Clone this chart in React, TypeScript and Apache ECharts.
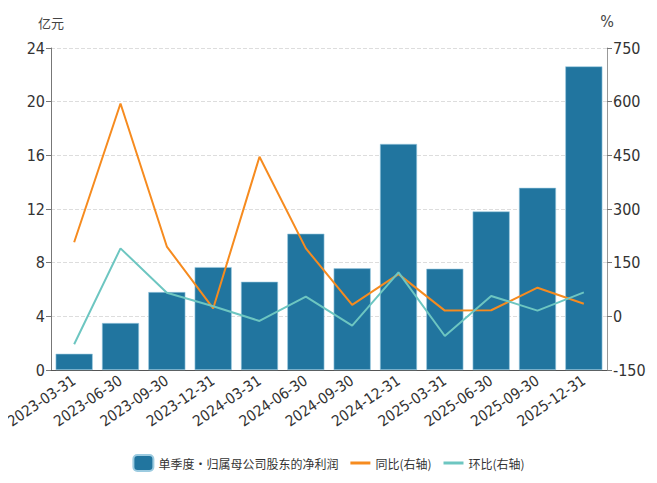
import React, { useEffect, useRef } from "react";
import * as echarts from "echarts";

const categories = [
  "2023-03-31", "2023-06-30", "2023-09-30", "2023-12-31",
  "2024-03-31", "2024-06-30", "2024-09-30", "2024-12-31",
  "2025-03-31", "2025-06-30", "2025-09-30", "2025-12-31",
];
const profit = [1.21, 3.5, 5.81, 7.67, 6.58, 10.16, 7.58, 16.85, 7.55, 11.82, 13.58, 22.63];
const yoy = [207, 595, 195, 22, 446, 190, 32, 118, 16, 17, 80, 35];
const qoq = [-78, 190, 66, 28, -13, 55, -26, 123, -55, 57, 16, 67];

const seriesNames = ["单季度·归属母公司股东的净利润", "同比(右轴)", "环比(右轴)"];
const font = "'Noto Sans CJK SC', 'Noto Sans', sans-serif";
const narrow = "'Liberation Sans Narrow', 'DejaVu Sans Condensed', 'Noto Sans', sans-serif";
const lineIcon = "path://M0,0 L20,0 L20,3 L0,3 Z";

export default function App() {
  const ref = useRef<HTMLDivElement>(null);
  useEffect(() => {
    const chart = echarts.init(ref.current!, null, { renderer: "svg" });
    chart.setOption({
      animation: false,
      textStyle: { fontFamily: font },
      grid: { left: 51, right: 50, top: 48, bottom: 113 },
      legend: {
        bottom: 6,
        left: "center",
        itemWidth: 20,
        itemHeight: 16,
        itemGap: 12,
        itemTextGap: 6,
        textStyle: { fontSize: 12, color: "#333", fontFamily: font },
        data: [
          { name: seriesNames[0], icon: "roundRect" },
          { name: seriesNames[1], icon: lineIcon },
          { name: seriesNames[2], icon: lineIcon },
        ],
      },
      xAxis: {
        type: "category",
        data: categories,
        axisLine: { lineStyle: { color: "#555" } },
        axisTick: { alignWithLabel: true, lineStyle: { color: "#555" } },
        axisLabel: { rotate: 34, fontSize: 15, fontFamily: narrow, color: "#333", interval: 0, margin: 9 },
      },
      yAxis: [
        {
          type: "value",
          name: "亿元",
          nameTextStyle: { fontSize: 13, color: "#444", padding: [0, 0, 4, 0] },
          min: 0,
          max: 24,
          interval: 4,
          axisLine: { show: true, lineStyle: { color: "#777" } },
          axisTick: { show: true, lineStyle: { color: "#777" } },
          axisLabel: { fontSize: 16, fontFamily: narrow, color: "#333", margin: 6 },
          splitLine: { lineStyle: { type: "dashed", color: "#ddd" } },
        },
        {
          type: "value",
          name: "%",
          nameTextStyle: { fontSize: 16, fontFamily: narrow, color: "#444", padding: [0, 0, 4, 0] },
          min: -150,
          max: 750,
          interval: 150,
          axisLine: { show: true, lineStyle: { color: "#999" } },
          axisTick: { show: true, lineStyle: { color: "#777" } },
          axisLabel: { fontSize: 16, fontFamily: narrow, color: "#333", margin: 6 },
          splitLine: { show: false },
        },
      ],
      series: [
        {
          name: seriesNames[0],
          type: "bar",
          data: profit,
          barWidth: "80%",
          itemStyle: { color: "#21759f", borderColor: "#9ccbe0", borderWidth: 0.6 },
        },
        {
          name: seriesNames[1],
          type: "line",
          yAxisIndex: 1,
          data: yoy,
          symbol: "none",
          lineStyle: { color: "#f68b1f", width: 2 },
          itemStyle: { color: "#f68b1f" },
        },
        {
          name: seriesNames[2],
          type: "line",
          yAxisIndex: 1,
          data: qoq,
          symbol: "none",
          lineStyle: { color: "#6dc6c1", width: 2 },
          itemStyle: { color: "#6dc6c1" },
        },
      ],
    });
    return () => chart.dispose();
  }, []);
  return <div ref={ref} style={{ width: 657, height: 483, margin: -8 }} />;
}
